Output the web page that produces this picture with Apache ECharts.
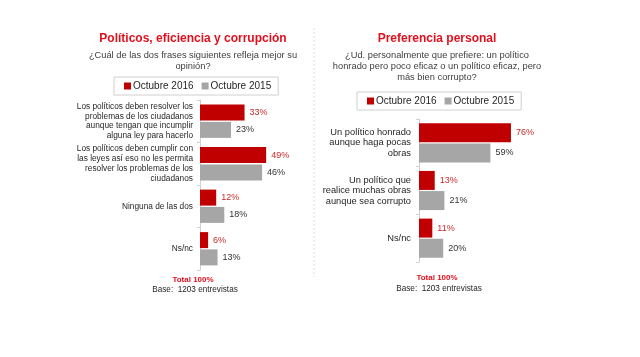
<!DOCTYPE html>
<html>
<head>
<meta charset="utf-8">
<script src="https://cdn.jsdelivr.net/npm/echarts@6/dist/echarts.min.js"></script>
<style>html,body{margin:0;padding:0;background:#fff}#c{width:640px;height:357px}</style>
</head>
<body>
<div id="c"></div>
<script>
const seriesNames = ['Octubre 2016', 'Octubre 2015'];

const leftTitle = 'Políticos, eficiencia y corrupción';
const leftQuestion = '¿Cuál de las dos frases siguientes refleja mejor su\nopinión?';
const leftCategories = [
  'Los políticos deben resolver los\nproblemas de los ciudadanos\naunque tengan que incumplir\nalguna ley para hacerlo',
  'Los políticos deben cumplir con\nlas leyes así eso no les permita\nresolver los problemas de los\nciudadanos',
  'Ninguna de las dos',
  'Ns/nc'
];
const left2016 = [33, 49, 12, 6];
const left2015 = [23, 46, 18, 13];

const rightTitle = 'Preferencia personal';
const rightQuestion = '¿Ud. personalmente que prefiere: un político\nhonrado pero poco eficaz o un político eficaz, pero\nmás bien corrupto?';
const rightCategories = [
  'Un político honrado\naunque haga pocas\nobras',
  'Un político que\nrealice muchas obras\naunque sea corrupto',
  'Ns/nc'
];
const right2016 = [76, 13, 11];
const right2015 = [59, 21, 20];

const totalText = 'Total 100%';
const baseText = 'Base:  1203 entrevistas';

const FONT = '"Liberation Sans", Arial, sans-serif';
const RED = '#c00000';
const GRAY = '#a6a6a6';
const TITLE_RED = '#e2101e';

const chart = echarts.init(document.getElementById('c'), null, {renderer: 'canvas'});

function catAxis(gridIndex, cats, fontSize, lineHeight, margin) {
  return {
    type: 'category', gridIndex, data: cats, inverse: true,
    axisLine: {show: true, lineStyle: {color: '#d0d0d0', width: 1}},
    axisTick: {show: true, length: 3, lineStyle: {color: '#d0d0d0'}},
    axisLabel: {fontFamily: FONT, fontSize, lineHeight, color: '#262626', margin, align: 'right'}
  };
}
function valAxis(gridIndex) {
  return {type: 'value', gridIndex, min: 0, max: 100, show: false, splitLine: {show: false}};
}
function barSeries(name, data, idx, color, labelColor, barWidth, barGap) {
  return {
    type: 'bar', name, data, xAxisIndex: idx, yAxisIndex: idx,
    barWidth, barGap,
    itemStyle: {color},
    label: {show: true, position: 'right', distance: 5, formatter: '{c}%',
      fontFamily: FONT, fontSize: 9, color: labelColor},
    animation: false
  };
}
function legend(left, top) {
  return {
    data: seriesNames, left, top, orient: 'horizontal',
    icon: 'rect', itemWidth: 7, itemHeight: 7, itemGap: 8,
    borderColor: '#d0d0d0', borderWidth: 1, padding: [4, 7, 4, 10],
    textStyle: {fontFamily: FONT, fontSize: 10, color: '#262626', padding: [0, 0, 0, -3]}
  };
}
function txt(text, left, top, size, bold, color) {
  return {text, left, top, textAlign: 'center', padding: 0,
    textStyle: {fontFamily: FONT, fontSize: size, fontWeight: bold ? 'bold' : 'normal', color, lineHeight: 11}};
}

chart.setOption({
  animation: false,
  backgroundColor: '#fff',
  title: [
    txt(leftTitle, 193, 33, 12, true, TITLE_RED),
    txt(leftQuestion, 193, 50, 9.3, false, '#404040'),
    txt(rightTitle, 437, 33, 12, true, TITLE_RED),
    txt(rightQuestion, 437, 50, 9.3, false, '#404040'),
    txt(totalText, 193, 274, 8, true, TITLE_RED),
    txt(baseText, 195, 284, 8.2, false, '#262626'),
    txt(totalText, 437, 272, 8, true, TITLE_RED),
    txt(baseText, 439, 283, 8.2, false, '#262626')
  ],
  legend: [legend(114, 77), legend(357, 92)],
  grid: [
    {left: 200, top: 100, width: 135, height: 170, containLabel: false},
    {left: 419, top: 119, width: 121, height: 143, containLabel: false}
  ],
  xAxis: [valAxis(0), valAxis(1)],
  yAxis: [
    catAxis(0, leftCategories, 8.3, 9.8, 7),
    catAxis(1, rightCategories, 9.3, 10.5, 8)
  ],
  series: [
    barSeries(seriesNames[0], left2016, 0, RED, '#cc2a2a', 16, '8%'),
    barSeries(seriesNames[1], left2015, 0, GRAY, '#333333', 16, '8%'),
    barSeries(seriesNames[0], right2016, 1, RED, '#cc2a2a', 19, '6%'),
    barSeries(seriesNames[1], right2015, 1, GRAY, '#333333', 19, '6%')
  ],
  graphic: [
    {type: 'line', shape: {x1: 314, y1: 28, x2: 314, y2: 277},
      style: {stroke: '#e0e0e0', lineWidth: 1, lineDash: [2, 2]}, silent: true}
  ]
});
</script>
</body>
</html>
